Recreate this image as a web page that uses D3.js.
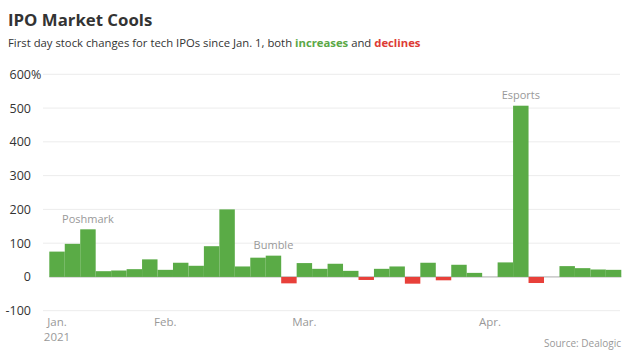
<!DOCTYPE html>
<html><head><meta charset="utf-8">
<script src="https://cdn.jsdelivr.net/npm/d3@7"></script>
<style>body{margin:0;background:#fff}svg{display:block}text{font-family:"Open Sans","Noto Sans",sans-serif}</style>
</head><body>
<script>
const values = [75, 98, 141, 17, 19, 23, 52, 21, 42, 33, 91, 200, 31, 57, 63, -19, 41, 24, 39, 18, -9, 24, 31, -20, 42, -10, 36, 12, 0, 43, 507, -18, 0, 32, 26, 22, 21];
const monthLabels = ["Jan.", "Feb.", "Mar.", "Apr."];
const monthIndex = [0, 7, 16, 28];
const annotations = ["Poshmark", "Bumble", "Esports"];
const annotationIndex = [2, 14, 30];
const yTicks = [-100, 0, 100, 200, 300, 400, 500, 600];

const W = 630, H = 354;
const svg = d3.select("body").append("svg").attr("width", W).attr("height", H);

const x = d3.scaleBand().domain(d3.range(values.length)).range([49.3, 621.3]).padding(0);
const y = d3.scaleLinear().domain([-100, 600]).range([310.7, 74.3]);

svg.append("text").attr("x", 8).attr("y", 26).attr("font-size", 16.8).attr("font-weight", 700)
  .attr("fill", "#333").text("IPO Market Cools");
const sub = svg.append("text").attr("x", 8).attr("y", 46.5).attr("font-size", 11.3).attr("fill", "#333");
sub.append("tspan").text("First day stock changes for tech IPOs since Jan. 1, both ");
sub.append("tspan").attr("fill", "#5aa846").attr("font-weight", 700).text("increases");
sub.append("tspan").text(" and ");
sub.append("tspan").attr("fill", "#dd3b35").attr("font-weight", 700).text("declines");

// gridlines
svg.append("g").selectAll("line").data(yTicks.filter(d => d !== 0)).join("line")
  .attr("x1", 43).attr("x2", 620).attr("y1", d => y(d)).attr("y2", d => y(d))
  .attr("stroke", "#ececec").attr("stroke-width", 1);

// y labels
svg.append("g").selectAll("text").data(yTicks).join("text")
  .attr("x", 31).attr("y", d => y(d) + 4.5).attr("text-anchor", "end")
  .attr("font-size", 12.5).attr("fill", "#333").text(d => d);
svg.append("text").attr("x", 31).attr("y", y(600) + 4.5).attr("font-size", 12.5).attr("fill", "#333").text("%");

// zero line
svg.append("line").attr("x1", x(0)).attr("x2", x.range()[1]).attr("y1", y(0)).attr("y2", y(0))
  .attr("stroke", "#aaa").attr("stroke-width", 1);

// bars
svg.append("g").selectAll("rect").data(values).join("rect")
  .attr("x", (d, i) => x(i)).attr("width", x.bandwidth())
  .attr("y", d => y(Math.max(0, d))).attr("height", d => Math.abs(y(d) - y(0)))
  .attr("fill", d => d >= 0 ? "#5aab46" : "#e8403a");

// annotations
svg.append("g").selectAll("text").data(annotations).join("text")
  .attr("x", (d, i) => x(annotationIndex[i]) + x.bandwidth() / 2)
  .attr("y", (d, i) => y(values[annotationIndex[i]]) - 6.5)
  .attr("text-anchor", "middle").attr("font-size", 11).attr("fill", "#999").text(d => d);

// month labels
svg.append("g").selectAll("text").data(monthLabels).join("text")
  .attr("x", (d, i) => x(monthIndex[i]) + x.bandwidth() / 2).attr("y", 326)
  .attr("text-anchor", "middle").attr("font-size", 11.5).attr("fill", "#999").text(d => d);
svg.append("text").attr("x", x(0) + x.bandwidth() / 2).attr("y", 341).attr("text-anchor", "middle")
  .attr("font-size", 11.5).attr("fill", "#999").text("2021");

svg.append("text").attr("x", 621).attr("y", 347).attr("text-anchor", "end")
  .attr("font-size", 10).attr("fill", "#999").text("Source: Dealogic");
</script>
</body></html>
